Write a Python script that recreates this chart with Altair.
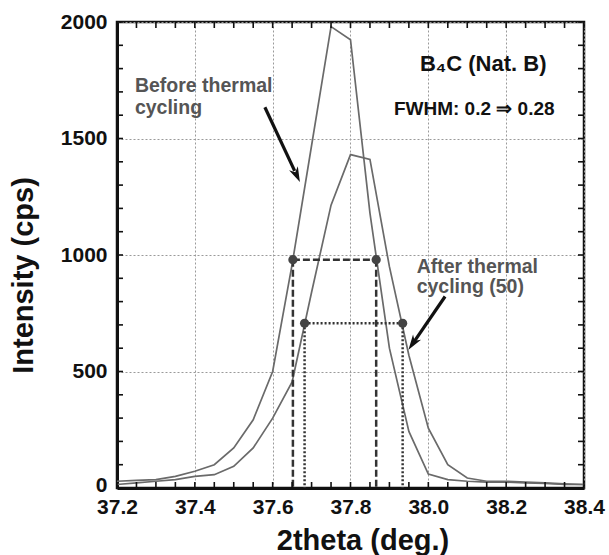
import altair as alt
import pandas as pd

# ---- data ----
theta = [37.2, 37.25, 37.3, 37.35, 37.4, 37.45, 37.5, 37.55, 37.6, 37.65, 37.7, 37.75,
         37.8, 37.85, 37.9, 37.95, 38.0, 38.05, 38.1, 38.15, 38.2, 38.25, 38.3, 38.35, 38.4]
before = [29, 33, 36, 50, 72, 100, 172, 293, 500, 960, 1470, 1980,
          1924, 1180, 600, 243, 60, 36, 29, 25, 25, 22, 20, 15, 15]
after = [15, 22, 29, 36, 50, 57, 93, 172, 300, 455, 840, 1214,
         1431, 1410, 950, 570, 257, 100, 43, 29, 29, 25, 22, 18, 15]

fwhm_before_x = [37.652, 37.866]
fwhm_before_y = 980
fwhm_after_x = [37.682, 37.934]
fwhm_after_y = 707

x_labels = [37.2, 37.4, 37.6, 37.8, 38.0, 38.2, 38.4]
y_labels = [0, 500, 1000, 1500, 2000]
x_minor = [round(37.2 + 0.05 * i, 2) for i in range(25)]
y_minor = [100 * i for i in range(21)]

# annotations (data units)
txt_before = {"x": 37.246, "y": 1699, "t": "Before thermal\ncycling"}
txt_after = {"x": 37.970, "y": 923, "t": "After thermal\ncycling (50)"}
txt_b4c = {"x": 38.141, "y": 1790, "t": "B\u2084C (Nat. B)"}
txt_fwhm = {"x": 38.118, "y": 1600, "t": "FWHM: 0.2 \u21d2 0.28"}
arrow_before = {"x0": 37.580, "y0": 1634, "x1": 37.670, "y1": 1313, "angle": 155}
arrow_after = {"x0": 38.043, "y0": 822, "x1": 37.949, "y1": 593, "angle": 214}

W, H = 467, 466
FONT = "Liberation Sans"

xscale = alt.Scale(domain=[37.2, 38.4], nice=False, zero=False)
yscale = alt.Scale(domain=[0, 2000], nice=False)

xaxis = alt.Axis(values=x_labels, format=".1f", title="2theta (deg.)", ticks=False, tickSize=0,
                 labelFontSize=21, labelFontWeight="bold", labelColor="#111", labelPadding=8,
                 titleFontSize=29, titleFontWeight="bold", titleColor="#111",
                 titleX=W / 2 + 12, titleY=52, titleBaseline="middle",
                 grid=True, gridDash=[2, 2], gridColor="#9a9a9a", gridWidth=1,
                 domainColor="#111", domainWidth=3, labelFlush=False)
yaxis = alt.Axis(values=y_labels, format="d", title="Intensity  (cps)", ticks=False, tickSize=0,
                 labelFontSize=21, labelFontWeight="bold", labelColor="#111", labelPadding=10,
                 labelOffset=alt.condition("datum.value === 0", alt.value(-3), alt.value(0)),
                 titleFontSize=29, titleFontWeight="bold", titleColor="#111",
                 titleX=-94, titleY=H / 2 + 20, titleAngle=270, titleAlign="center", titleBaseline="middle",
                 grid=True, gridDash=[2, 2], gridColor="#9a9a9a", gridWidth=1,
                 domainColor="#111", domainWidth=3, labelFlush=False)


def X(field="x"):
    return alt.X(f"{field}:Q", scale=xscale, axis=xaxis)


def Y(field="y"):
    return alt.Y(f"{field}:Q", scale=yscale, axis=yaxis)


rows = []
for t, b, a in zip(theta, before, after):
    rows.append({"x": t, "y": b, "s": "before"})
    rows.append({"x": t, "y": a, "s": "after"})
df = pd.DataFrame(rows)

lines = alt.Chart(df).mark_line(color="#6a6a6a", strokeWidth=1.7).encode(
    x=X(), y=Y(), detail="s:N")

# FWHM markers
fb = pd.DataFrame({"x": fwhm_before_x[0], "x2": fwhm_before_x[1], "y": [fwhm_before_y]})
fa = pd.DataFrame({"x": fwhm_after_x[0], "x2": fwhm_after_x[1], "y": [fwhm_after_y]})
fbv = pd.DataFrame({"x": fwhm_before_x, "y": [fwhm_before_y] * 2, "y2": [0, 0]})
fav = pd.DataFrame({"x": fwhm_after_x, "y": [fwhm_after_y] * 2, "y2": [0, 0]})

dash_h = alt.Chart(fb).mark_rule(color="#333", strokeWidth=2.5, strokeDash=[7, 3]).encode(
    x=X(), x2="x2:Q", y=Y())
dash_v = alt.Chart(fbv).mark_rule(color="#333", strokeWidth=2.5, strokeDash=[7, 3]).encode(
    x=X(), y=Y(), y2="y2:Q")
dot_h = alt.Chart(fa).mark_rule(color="#333", strokeWidth=2.5, strokeDash=[2, 2]).encode(
    x=X(), x2="x2:Q", y=Y())
dot_v = alt.Chart(fav).mark_rule(color="#333", strokeWidth=2.5, strokeDash=[2, 2]).encode(
    x=X(), y=Y(), y2="y2:Q")
pts = alt.Chart(pd.concat([fbv, fav])).mark_point(filled=True, color="#444", size=85, opacity=1).encode(
    x=X(), y=Y())

# ticks (inward, all four sides)
dxm = pd.DataFrame({"x": x_minor})
dym = pd.DataFrame({"y": y_minor})
tick_style = dict(color="#111", strokeWidth=1.6)
t_bottom = alt.Chart(dxm).mark_rule(**tick_style).encode(x=X(), y=alt.value(H), y2=alt.value(H - 6))
t_top = alt.Chart(dxm).mark_rule(**tick_style).encode(x=X(), y=alt.value(0), y2=alt.value(6))
t_left = alt.Chart(dym).mark_rule(**tick_style).encode(y=Y(), x=alt.value(0), x2=alt.value(6))
t_right = alt.Chart(dym).mark_rule(**tick_style).encode(y=Y(), x=alt.value(W), x2=alt.value(W - 6))


# texts
def text_layer(d, align, color, size, lh):
    return alt.Chart(pd.DataFrame([d])).mark_text(
        align=align, baseline="alphabetic", font=FONT, fontWeight="bold", fontSize=size,
        color=color, lineBreak="\n", lineHeight=lh).encode(x=X(), y=Y(), text="t:N")


t1 = text_layer(txt_before, "left", "#555", 19.5, 22)
t2 = text_layer(txt_after, "left", "#555", 19.5, 20)
t3 = text_layer(txt_b4c, "center", "#111", 22, 22)
t4 = text_layer(txt_fwhm, "center", "#111", 19, 20)

# arrows
arrows = []
for a in (arrow_before, arrow_after):
    xe = a["x0"] + 0.85 * (a["x1"] - a["x0"])
    ye = a["y0"] + 0.85 * (a["y1"] - a["y0"])
    shaft = alt.Chart(pd.DataFrame([{"x": a["x0"], "y": a["y0"], "x2": xe, "y2": ye}])).mark_rule(
        color="#111", strokeWidth=3.2).encode(x=X(), y=Y(), x2="x2:Q", y2="y2:Q")
    head = alt.Chart(pd.DataFrame([{"x": a["x1"], "y": a["y1"]}])).mark_point(
        shape="M0,0L0.6,1.9L0,1.35L-0.6,1.9Z", filled=True, color="#111", opacity=1,
        size=260, angle=a["angle"]).encode(x=X(), y=Y())
    arrows += [shaft, head]

chart = alt.layer(
    lines, dash_h, dash_v, dot_h, dot_v, pts,
    t_bottom, t_top, t_left, t_right,
    t1, t2, t3, t4, *arrows
).properties(
    width=W, height=H,
    autosize=alt.AutoSizeParams(type="none"),
    padding={"left": 117, "top": 22, "right": 25, "bottom": 67},
    background="white",
).configure_view(
    stroke="#111", strokeWidth=2.5
).configure_axis(
    labelFont=FONT, titleFont=FONT
)

chart.save("out.html", embed_options={"renderer": "svg", "actions": False})
